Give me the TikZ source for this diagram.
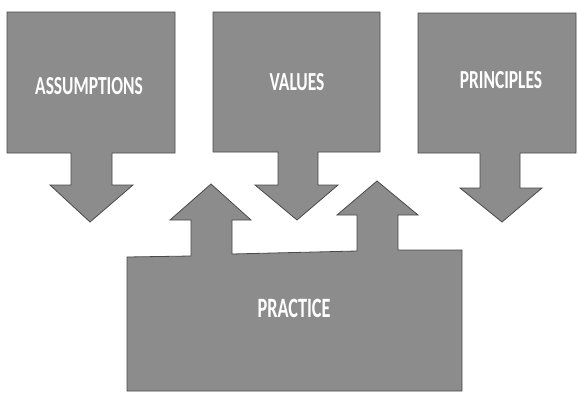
\documentclass[tikz,border=0pt]{standalone}
\usepackage{fontspec}
\setmainfont{Carlito}
\definecolor{boxgray}{HTML}{8C8C8C}
\definecolor{edgegray}{HTML}{4A4A4A}
\begin{document}
\begin{tikzpicture}[x=1pt,y=-1pt,
  shapebox/.style={fill=boxgray,draw=edgegray,line width=0.8pt,line join=miter},
  lbl/.style={text=white,font=\bfseries\fontsize{26}{26}\selectfont,xscale=0.67,inner sep=0pt},
  biglbl/.style={text=white,font=\bfseries\fontsize{28}{28}\selectfont,xscale=0.65,inner sep=0pt}]
\useasboundingbox (0,0) rectangle (578,394);
% ASSUMPTIONS
\draw[shapebox] (7,12) -- (175,12) -- (175,153) -- (112,153) -- (112,185) -- (133,185) -- (90,222) -- (50,185) -- (71,185) -- (71,153) -- (7,153) -- cycle;
% VALUES
\draw[shapebox] (213,12) -- (380,12) -- (380,152) -- (318,152) -- (318,185) -- (338,185) -- (297,220) -- (255,185) -- (278,185) -- (278,152) -- (213,152) -- cycle;
% PRINCIPLES
\draw[shapebox] (418,13) -- (576,13) -- (576,153) -- (520,153) -- (520,188) -- (542,188) -- (502,222) -- (460,188) -- (480,188) -- (480,153) -- (418,153) -- cycle;
% PRACTICE
\draw[shapebox] (127,257) -- (191,256) -- (191,220) -- (170,220) -- (211,184) -- (251,220) -- (232,220) -- (232,254) -- (357,251) -- (357,215) -- (337,215) -- (377,181) -- (418,215) -- (398,215) -- (398,250) -- (462,250) -- (462,391) -- (127,391) -- cycle;
\node[lbl] (assumptions) at (89,86) {ASSUMPTIONS};
\node[lbl] (values) at (297,82) {VALUES};
\node[lbl] (principles) at (501,80) {PRINCIPLES};
\node[biglbl] (practice) at (294,308) {PRACTICE};
\end{tikzpicture}
\end{document}
